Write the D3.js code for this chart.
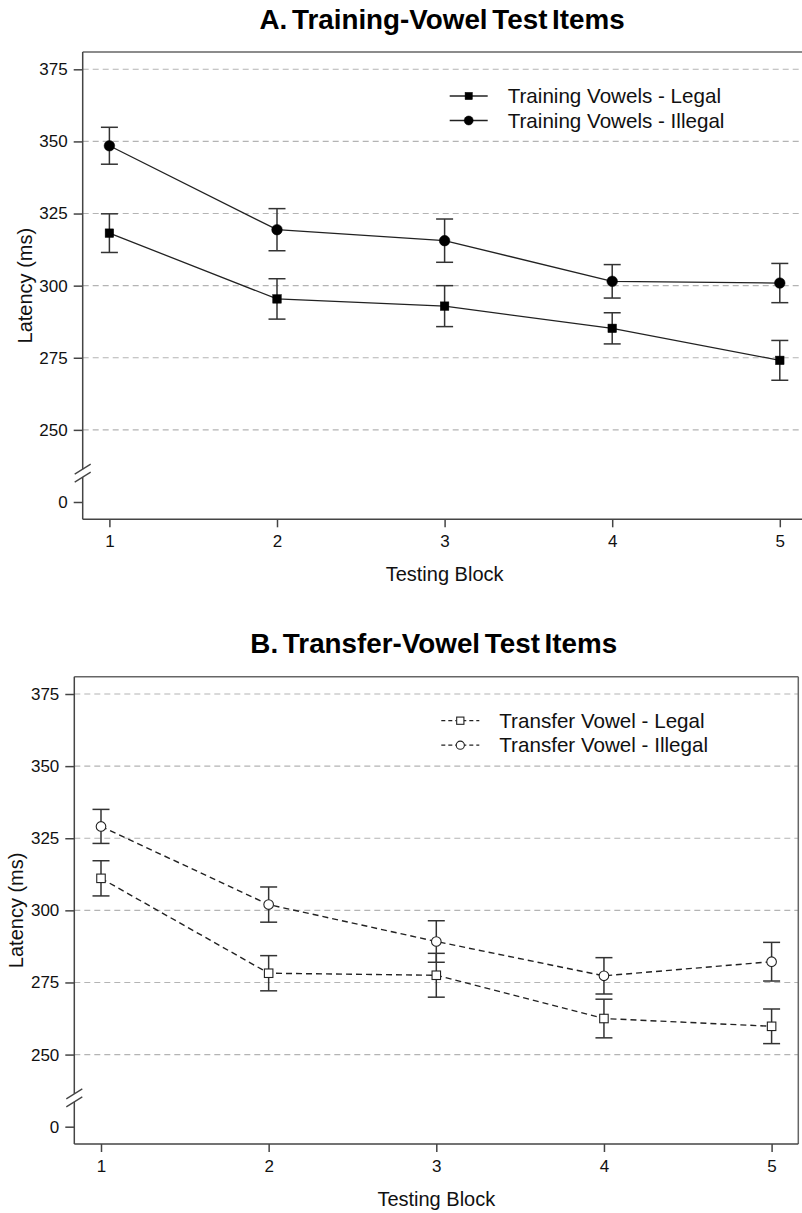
<!DOCTYPE html>
<html>
<head>
<meta charset="utf-8">
<script src="https://cdn.jsdelivr.net/npm/d3@7"></script>
<style>
  body { margin: 0; background: #fff; }
  svg { display: block; font-family: "Liberation Sans", Arial, sans-serif; }
</style>
</head>
<body>
<svg id="chart" width="802" height="1213"></svg>
<script>
// ---- data ----
const blocks = [1, 2, 3, 4, 5];
const yTicks = [0, 250, 275, 300, 325, 350, 375];

const titleA = "A. Training-Vowel Test Items";
const titleB = "B. Transfer-Vowel Test Items";

const trainLegalName = "Training Vowels - Legal";
const trainLegal = [318.2, 295.4, 292.9, 285.2, 274.1];
const trainLegalErr = [6.7, 7.0, 7.1, 5.4, 6.9];

const trainIllegalName = "Training Vowels - Illegal";
const trainIllegal = [348.5, 319.4, 315.6, 301.5, 300.9];
const trainIllegalErr = [6.4, 7.3, 7.5, 5.8, 6.8];

const transLegalName = "Transfer Vowel - Legal";
const transLegal = [311.1, 278.2, 277.5, 262.5, 259.8];
const transLegalErr = [6.1, 6.1, 7.6, 6.7, 6.0];

const transIllegalName = "Transfer Vowel - Illegal";
const transIllegal = [329.1, 302.0, 289.2, 277.3, 282.2];
const transIllegalErr = [5.9, 6.1, 7.2, 6.3, 6.7];

// ---- drawing ----
const svg = d3.select("#chart");

function drawPanel(cfg) {
  const { left, top, right, bottom, title, series, dashed } = cfg;
  const g = svg.append("g");

  const step = (right - left - 2 * 26.7) / 4;
  const x = d3.scaleLinear().domain([1, 5]).range([left + 26.7, left + 26.7 + 4 * step]);

  // broken y axis: 0..250 compressed into the space of one 25-unit step
  const k = (bottom - top) / 162;
  const y0 = bottom - 6 * k;
  const y250 = y0 - 25 * k;
  const y = d3.scaleLinear()
    .domain([-25, 0, 250, 381])
    .range([y0 + 25 * k, y0, y250, top]);

  g.selectAll("line.grid")
    .data(yTicks.filter(d => d >= 250))
    .enter().append("line")
    .attr("x1", left).attr("x2", right)
    .attr("y1", d => y(d)).attr("y2", d => y(d))
    .attr("stroke", "#b4b4b4").attr("stroke-width", 1.1)
    .attr("stroke-dasharray", "6,4");

  const frameColor = "#666";
  g.append("line").attr("x1", left).attr("x2", right).attr("y1", top).attr("y2", top)
    .attr("stroke", frameColor).attr("stroke-width", 1.5);
  g.append("line").attr("x1", right).attr("x2", right).attr("y1", top).attr("y2", bottom)
    .attr("stroke", frameColor).attr("stroke-width", 1.5);

  const yAxis = d3.axisLeft(y).tickValues(yTicks).tickSize(9).tickPadding(6)
    .tickFormat(d3.format("d"));
  const ya = g.append("g").attr("transform", `translate(${left},0)`).call(yAxis);
  ya.select(".domain").remove();
  ya.selectAll(".tick line").attr("stroke", "#444").attr("stroke-width", 1.5);
  ya.selectAll(".tick text").attr("fill", "#111").attr("font-size", 17)
    .attr("font-family", "Liberation Sans, Arial, sans-serif");

  const yb = y(100);
  g.append("line").attr("x1", left).attr("x2", left).attr("y1", top).attr("y2", yb - 4)
    .attr("stroke", "#444").attr("stroke-width", 1.5);
  g.append("line").attr("x1", left).attr("x2", left).attr("y1", yb + 4).attr("y2", bottom)
    .attr("stroke", "#444").attr("stroke-width", 1.5);
  [-4, 4].forEach(o => {
    g.append("line")
      .attr("x1", left - 8).attr("y1", yb + o + 5)
      .attr("x2", left + 8).attr("y2", yb + o - 5)
      .attr("stroke", "#444").attr("stroke-width", 1.3);
  });

  const xAxis = d3.axisBottom(x).tickValues(blocks).tickSize(8).tickPadding(8)
    .tickFormat(d3.format("d"));
  const xa = g.append("g").attr("transform", `translate(0,${bottom})`).call(xAxis);
  xa.select(".domain").remove();
  xa.selectAll(".tick line").attr("stroke", "#444").attr("stroke-width", 1.5);
  xa.selectAll(".tick text").attr("fill", "#111").attr("font-size", 17)
    .attr("font-family", "Liberation Sans, Arial, sans-serif");
  g.append("line").attr("x1", left).attr("x2", right).attr("y1", bottom).attr("y2", bottom)
    .attr("stroke", "#444").attr("stroke-width", 1.5);

  g.append("text").attr("x", (x(1) + x(5)) / 2).attr("y", bottom + 62)
    .attr("text-anchor", "middle").attr("font-size", 20).attr("fill", "#111")
    .text("Testing Block");
  g.append("text")
    .attr("transform", `translate(${left - 51},${(top + bottom) / 2}) rotate(-90)`)
    .attr("text-anchor", "middle").attr("font-size", 20).attr("fill", "#111")
    .text("Latency (ms)");

  g.append("text").attr("x", (left + right) / 2 - 2.5).attr("y", top - 23.5)
    .attr("text-anchor", "middle").attr("font-size", 27.8).attr("font-weight", "bold")
    .attr("fill", "#000").attr("word-spacing", -3)
    .text(title);

  const line = d3.line().x((d, i) => x(blocks[i])).y(d => y(d));
  series.forEach(s => {
    g.append("path").datum(s.values)
      .attr("d", line).attr("fill", "none")
      .attr("stroke", "#222").attr("stroke-width", dashed ? 1.4 : 1.3)
      .attr("stroke-dasharray", dashed ? "6,4" : null);

    const eb = g.append("g");
    s.values.forEach((v, i) => {
      const cx = x(blocks[i]);
      const e = s.err[i];
      eb.append("line").attr("x1", cx).attr("x2", cx).attr("y1", y(v + e)).attr("y2", y(v - e))
        .attr("stroke", "#333").attr("stroke-width", 1.5);
      [v + e, v - e].forEach(w => {
        eb.append("line").attr("x1", cx - 8.5).attr("x2", cx + 8.5).attr("y1", y(w)).attr("y2", y(w))
          .attr("stroke", "#333").attr("stroke-width", 1.5);
      });
    });

    s.values.forEach((v, i) => drawMarker(g, s.shape, s.filled, x(blocks[i]), y(v)));
  });

  series.forEach((s, i) => {
    const ly = top + 44 + i * 24.5;
    const mx = left + 386;
    g.append("line").attr("x1", mx - 19).attr("x2", mx + 19).attr("y1", ly).attr("y2", ly)
      .attr("stroke", "#222").attr("stroke-width", 1.3)
      .attr("stroke-dasharray", dashed ? "4,3" : null);
    drawMarker(g, s.shape, s.filled, mx, ly, 0.85);
    g.append("text").attr("x", left + 425).attr("y", ly + 7)
      .attr("font-size", 20.6).attr("fill", "#111").text(s.name);
  });
}

function drawMarker(g, shape, filled, cx, cy, scale = 1) {
  if (shape === "square") {
    const s = 8.5 * scale;
    g.append("rect").attr("x", cx - s / 2).attr("y", cy - s / 2)
      .attr("width", s).attr("height", s)
      .attr("fill", filled ? "#000" : "#fff").attr("stroke", filled ? "#000" : "#222")
      .attr("stroke-width", filled ? 0.5 : 1.1);
  } else {
    const r = (filled ? 5.3 : 4.8) * scale;
    g.append("circle").attr("cx", cx).attr("cy", cy).attr("r", r)
      .attr("fill", filled ? "#000" : "#fff").attr("stroke", filled ? "#000" : "#222")
      .attr("stroke-width", filled ? 0.5 : 1.1);
  }
}

drawPanel({
  left: 82.7, top: 52, right: 806.5, bottom: 519.3,
  title: titleA, dashed: false,
  series: [
    { name: trainLegalName, values: trainLegal, err: trainLegalErr, shape: "square", filled: true },
    { name: trainIllegalName, values: trainIllegal, err: trainIllegalErr, shape: "circle", filled: true }
  ]
});

drawPanel({
  left: 74.3, top: 676.7, right: 798.3, bottom: 1144,
  title: titleB, dashed: true,
  series: [
    { name: transLegalName, values: transLegal, err: transLegalErr, shape: "square", filled: false },
    { name: transIllegalName, values: transIllegal, err: transIllegalErr, shape: "circle", filled: false }
  ]
});
</script>
</body>
</html>
